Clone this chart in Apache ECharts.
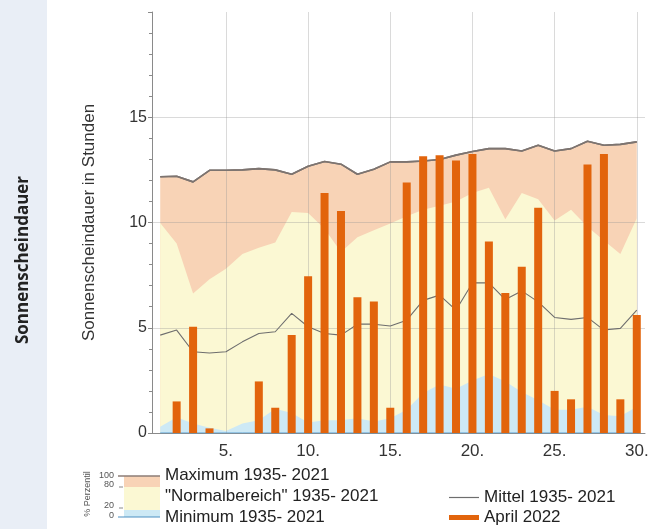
<!DOCTYPE html>
<html>
<head>
<meta charset="utf-8">
<script src="https://cdn.jsdelivr.net/npm/echarts@6/dist/echarts.min.js"></script>
<style>
html,body{margin:0;padding:0;background:#fff;}
#chart{width:654px;height:529px;}
</style>
</head>
<body>
<div id="chart"></div>
<script>
// Days of April
const days = [1,2,3,4,5,6,7,8,9,10,11,12,13,14,15,16,17,18,19,20,21,22,23,24,25,26,27,28,29,30];
// April 2022 daily sunshine (h)
const april2022 = [0,1.5,5.05,0.22,0,0,2.45,1.2,4.65,7.45,11.4,10.55,6.45,6.25,1.2,11.9,13.15,13.2,12.95,13.25,9.1,6.65,7.9,10.7,2.0,1.6,12.75,13.25,1.6,5.6];
// Climatology 1935-2021
const maximum = [12.17,12.2,11.93,12.48,12.48,12.5,12.56,12.5,12.29,12.67,12.9,12.77,12.29,12.53,12.88,12.88,12.92,12.99,13.2,13.37,13.51,13.51,13.4,13.67,13.4,13.51,13.86,13.67,13.71,13.83];
const perc80 = [9.98,9.0,6.63,7.3,7.8,8.5,8.8,9.05,10.5,10.45,9.7,8.6,9.3,9.63,9.95,10.3,10.6,10.8,11.0,11.4,11.65,10.15,11.4,11.1,10.1,10.6,9.8,9.15,8.5,10.2];
const perc20 = [0.3,0.75,0.45,0.25,0.1,0.45,0.6,1.15,0.95,0.5,0.6,0.6,0.7,0.55,0.7,1.1,1.9,2.3,2.1,2.5,2.8,2.45,1.95,1.55,1.1,1.1,1.25,0.85,0.8,1.25];
const minimum = [0,0,0,0,0,0,0,0,0,0,0,0,0,0,0,0,0,0,0,0,0,0,0,0,0,0,0,0,0,0];
const mittel = [4.65,4.89,3.86,3.8,3.86,4.33,4.73,4.81,5.68,5.05,4.73,4.65,5.17,5.17,5.08,5.36,6.3,6.55,5.84,7.13,7.13,6.34,6.75,6.23,5.49,5.4,5.49,4.89,4.97,5.84];
const xTicks = [5,10,15,20,25,30];

const NAME_MAX = 'Maximum 1935- 2021';
const NAME_NORM = '"Normalbereich" 1935- 2021';
const NAME_MIN = 'Minimum 1935- 2021';
const NAME_MEAN = 'Mittel 1935- 2021';
const NAME_APR = 'April 2022';

const pair = (arr) => days.map((d, i) => [d, arr[i]]);

const FONT = '"Liberation Sans", Arial, sans-serif';
const GRID_COLOR = 'rgba(150,150,150,0.35)';

const chart = echarts.init(document.getElementById('chart'), null, {renderer: 'canvas'});
chart.setOption({
  animation: false,
  backgroundColor: '#ffffff',
  textStyle: {fontFamily: FONT},
  grid: {left: 152, right: 9, top: 12, bottom: 96, containLabel: false},
  xAxis: {
    type: 'value', min: 0.5, max: 30.5, z: 5,
    axisLine: {show: true, lineStyle: {color: '#8a8a8a', width: 1}},
    axisTick: {show: false, customValues: xTicks},
    axisLabel: {customValues: xTicks, formatter: v => v + '.', fontSize: 17, color: '#333', margin: 10, fontFamily: FONT},
    splitLine: {show: true, lineStyle: {color: GRID_COLOR, width: 1}}
  },
  yAxis: {
    type: 'value', min: 0, max: 20, interval: 5, z: 5,
    name: 'Sonnenscheindauer in Stunden', nameLocation: 'middle', nameGap: 54,
    nameTextStyle: {fontSize: 17, color: '#333', fontFamily: FONT},
    axisLine: {show: true, lineStyle: {color: '#8a8a8a', width: 1}},
    axisTick: {show: true, length: 4, lineStyle: {color: '#8a8a8a'}},
    minorTick: {show: true, splitNumber: 5, length: 3, lineStyle: {color: '#8a8a8a'}},
    axisLabel: {fontSize: 16, color: '#333', margin: 5, showMaxLabel: false, fontFamily: FONT},
    splitLine: {show: true, showMaxLine: false, lineStyle: {color: GRID_COLOR, width: 1}}
  },
  legend: [
    {
      orient: 'vertical', left: 130, top: 467, padding: 0, itemWidth: 30, itemHeight: 14, itemGap: 4,
      selectedMode: false,
      textStyle: {fontSize: 17, color: '#222', fontFamily: FONT},
      itemStyle: {opacity: 0}, lineStyle: {opacity: 0},
      data: [
        {name: NAME_MAX, icon: 'none'},
        {name: NAME_NORM, icon: 'none'},
        {name: NAME_MIN, icon: 'none'}
      ]
    },
    {
      orient: 'vertical', left: 449, top: 489, padding: 0, itemWidth: 30, itemHeight: 14, itemGap: 3,
      selectedMode: false,
      textStyle: {fontSize: 17, color: '#222', fontFamily: FONT},
      data: [
        {name: NAME_MEAN, icon: 'path://M0,0h30v1.2h-30z'},
        {name: NAME_APR, icon: 'path://M0,0h30v5h-30z'}
      ]
    }
  ],
  graphic: [
    {type: 'rect', z: -10, shape: {x: 0, y: 0, width: 47, height: 529}, style: {fill: '#e9eef6'}},
    {type: 'text', x: 23, y: 260, rotation: Math.PI / 2,
      style: {text: 'Sonnenscheindauer', fontSize: 17, fontWeight: 'bold', fill: '#222', align: 'center', verticalAlign: 'middle', fontFamily: '"Open Sans", "Noto Sans", sans-serif'}},
    {type: 'text', x: 88, y: 494, rotation: Math.PI / 2,
      style: {text: '% Perzentil', fontSize: 9, fill: '#555', align: 'center', verticalAlign: 'middle', fontFamily: FONT}},
    {type: 'text', x: 114, y: 476, style: {text: '100', fontSize: 9, fill: '#555', align: 'right', verticalAlign: 'middle', fontFamily: FONT}},
    {type: 'text', x: 114, y: 485, style: {text: '80', fontSize: 9, fill: '#555', align: 'right', verticalAlign: 'middle', fontFamily: FONT}},
    {type: 'text', x: 114, y: 506, style: {text: '20', fontSize: 9, fill: '#555', align: 'right', verticalAlign: 'middle', fontFamily: FONT}},
    {type: 'text', x: 114, y: 516, style: {text: '0', fontSize: 9, fill: '#555', align: 'right', verticalAlign: 'middle', fontFamily: FONT}},
    {type: 'rect', shape: {x: 124, y: 476, width: 36, height: 11}, style: {fill: '#f8d3b6'}},
    {type: 'rect', shape: {x: 124, y: 487, width: 36, height: 23}, style: {fill: '#fbf8d3'}},
    {type: 'rect', shape: {x: 124, y: 510, width: 36, height: 7}, style: {fill: '#cde9f5'}},
    {type: 'line', shape: {x1: 118, y1: 476, x2: 160, y2: 476}, style: {stroke: '#8c7d76', lineWidth: 1.5}},
    {type: 'line', shape: {x1: 118, y1: 517, x2: 160, y2: 517}, style: {stroke: '#4d90c2', lineWidth: 1.2}},
    {type: 'line', shape: {x1: 119, y1: 487, x2: 123, y2: 487}, style: {stroke: '#888', lineWidth: 1}},
    {type: 'line', shape: {x1: 119, y1: 508, x2: 123, y2: 508}, style: {stroke: '#888', lineWidth: 1}}
  ],
  series: [
    {
      name: NAME_MAX, type: 'line', data: pair(maximum),
      symbol: 'none', showSymbol: false, z: 2,
      lineStyle: {color: '#7d7470', width: 1.6}, itemStyle: {color: '#f8d3b6'},
      areaStyle: {color: '#f8d3b6', opacity: 1}
    },
    {
      name: NAME_NORM, type: 'line', data: pair(perc80),
      symbol: 'none', showSymbol: false, z: 2,
      lineStyle: {width: 0}, itemStyle: {color: '#fbf8d3'},
      areaStyle: {color: '#fbf8d3', opacity: 1}
    },
    {
      name: 'Perzentil 20', type: 'line', data: pair(perc20),
      symbol: 'none', showSymbol: false, z: 2,
      lineStyle: {width: 0}, itemStyle: {color: '#cde9f5'},
      areaStyle: {color: '#cde9f5', opacity: 1}
    },
    {
      name: NAME_MIN, type: 'line', data: pair(minimum),
      symbol: 'none', showSymbol: false, z: 6,
      lineStyle: {color: '#5a9fd0', width: 1}, itemStyle: {color: '#5a9fd0'}
    },
    {
      name: NAME_MEAN, type: 'line', data: pair(mittel),
      symbol: 'none', showSymbol: false, z: 6,
      lineStyle: {color: '#6e6e6e', width: 1.1}, itemStyle: {color: '#6e6e6e'}
    },
    {
      name: 'Maximum Linie', type: 'line', data: pair(maximum),
      symbol: 'none', showSymbol: false, z: 6,
      lineStyle: {color: '#7d7470', width: 1.6}, itemStyle: {color: '#7d7470'}
    },
    {
      name: NAME_APR, type: 'bar', data: pair(april2022), barWidth: 8, z: 10,
      itemStyle: {color: '#e2640c'}
    }
  ]
});
</script>
</body>
</html>
